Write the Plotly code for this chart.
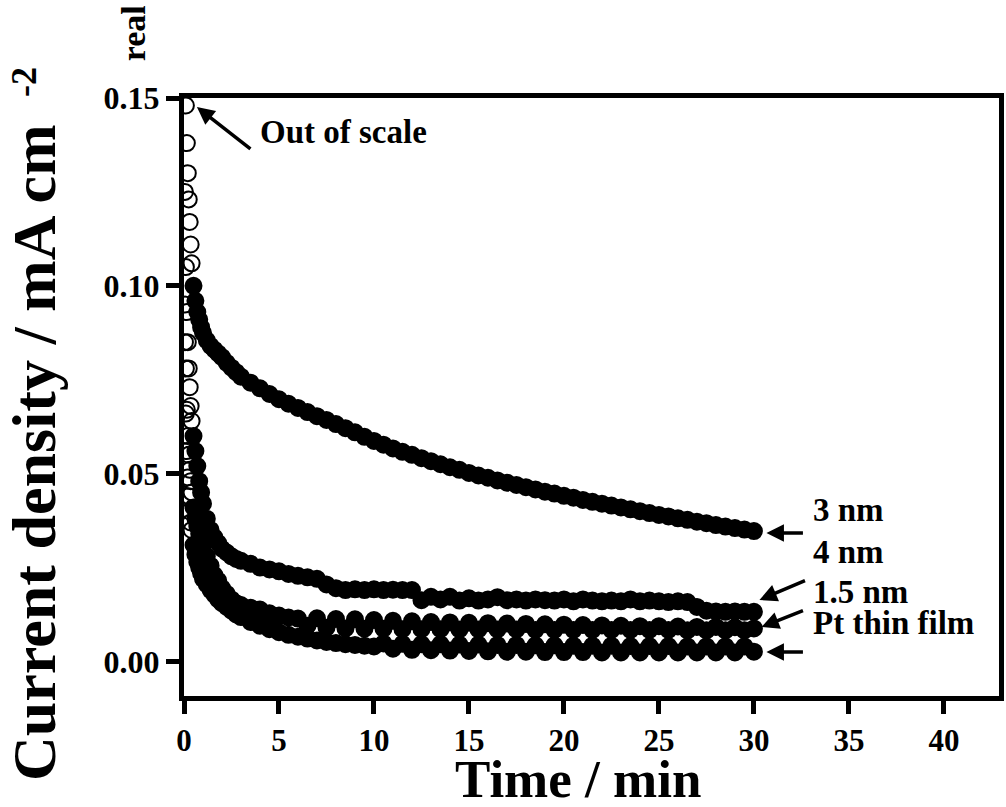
import plotly.graph_objects as go

# ---------------- data ----------------
time_min = [0.05, 0.1, 0.15, 0.2, 0.25, 0.3, 0.35, 0.4, 0.5, 0.6, 0.7, 0.8, 0.9, 1.0,
            1.2, 1.4, 1.6, 1.8, 2.0, 2.25, 2.5, 2.75, 3.0, 3.5, 4.0, 4.5, 5.0, 5.5, 6.0,
            6.5, 7.0, 7.5, 8.0, 8.5, 9.0, 9.5, 10.0, 10.5, 11.0, 11.5, 12.0, 12.5, 13.0,
            13.5, 14.0, 14.5, 15.0, 15.5, 16.0, 16.5, 17.0, 17.5, 18.0, 18.5, 19.0, 19.5,
            20.0, 20.5, 21.0, 21.5, 22.0, 22.5, 23.0, 23.5, 24.0, 24.5, 25.0, 25.5, 26.0,
            26.5, 27.0, 27.5, 28.0, 28.5, 29.0, 29.5, 30.0]

j_3nm = [0.175, 0.148, 0.138, 0.130, 0.123, 0.117, 0.111, 0.106, 0.100, 0.096, 0.093, 0.091,
         0.089, 0.0875, 0.0855, 0.084, 0.083, 0.082, 0.081, 0.0795, 0.0782, 0.077, 0.0758,
         0.0742, 0.0727, 0.0712, 0.0698, 0.0686, 0.0675, 0.0664, 0.0653, 0.0643, 0.0632,
         0.0621, 0.061, 0.0598, 0.0587, 0.0577, 0.0567, 0.0558, 0.055, 0.0541, 0.0533,
         0.0525, 0.0517, 0.051, 0.0502, 0.0495, 0.0489, 0.0482, 0.0476, 0.047, 0.0464,
         0.0458, 0.0452, 0.0447, 0.0441, 0.0436, 0.043, 0.0425, 0.042, 0.0415, 0.041,
         0.0405, 0.04, 0.0395, 0.039, 0.0386, 0.0381, 0.0377, 0.0372, 0.0368, 0.0363,
         0.0359, 0.0355, 0.0351, 0.0347]

j_4nm = [0.125, 0.105, 0.093, 0.085, 0.078, 0.073, 0.068, 0.064, 0.060, 0.056, 0.052, 0.048,
         0.045, 0.042, 0.038, 0.035, 0.033, 0.0315, 0.030, 0.029, 0.028, 0.0273, 0.0268,
         0.026, 0.025, 0.0245, 0.024, 0.0233, 0.0228, 0.0224, 0.022, 0.0205, 0.0195,
         0.019, 0.0192, 0.019, 0.0192, 0.019, 0.0191, 0.019, 0.019, 0.0163, 0.0172,
         0.0165, 0.0172, 0.0162, 0.0168, 0.0162, 0.0165, 0.0171, 0.0163, 0.0165, 0.0162,
         0.0165, 0.0163, 0.0162, 0.0165, 0.016, 0.0165, 0.0162, 0.016, 0.0162, 0.016,
         0.0165, 0.016, 0.0162, 0.016, 0.0158, 0.016, 0.0158, 0.0145, 0.0135, 0.0133,
         0.0132, 0.0133, 0.0132, 0.0132]

j_15nm = [0.095, 0.078, 0.067, 0.060, 0.055, 0.051, 0.048, 0.045, 0.041, 0.038, 0.036, 0.034,
          0.0325, 0.031, 0.028, 0.0255, 0.023, 0.0215, 0.0195, 0.018, 0.0165, 0.0155, 0.015,
          0.0143, 0.0138, 0.0128, 0.0122, 0.0117, 0.0114, 0.0095, 0.0115, 0.009, 0.0113,
          0.0088, 0.0112, 0.0087, 0.011, 0.0087, 0.0108, 0.0086, 0.0107, 0.0086, 0.0105,
          0.0086, 0.0104, 0.0085, 0.0103, 0.0085, 0.0102, 0.0085, 0.0101, 0.0085, 0.01,
          0.0084, 0.0099, 0.0084, 0.0098, 0.0084, 0.0097, 0.0084, 0.0096, 0.0084, 0.0095,
          0.0084, 0.0094, 0.0084, 0.0094, 0.0084, 0.0093, 0.0083, 0.0092, 0.0083, 0.0092,
          0.0083, 0.0091, 0.0083, 0.0088]

j_pt = [0.085, 0.066, 0.056, 0.049, 0.044, 0.040, 0.037, 0.035, 0.031, 0.0285, 0.0265, 0.025,
        0.0235, 0.022, 0.0205, 0.019, 0.0178, 0.0165, 0.0155, 0.0145, 0.0135, 0.0125, 0.0118,
        0.0105, 0.0095, 0.0086, 0.0078, 0.0071, 0.0066, 0.0061, 0.0056, 0.0052, 0.0049,
        0.0046, 0.0044, 0.0042, 0.004, 0.0048, 0.0034, 0.0047, 0.0031, 0.0046, 0.003,
        0.0046, 0.0029, 0.0045, 0.0028, 0.0045, 0.0027, 0.0044, 0.0026, 0.0044, 0.0026,
        0.0043, 0.0025, 0.0043, 0.0025, 0.0042, 0.0025, 0.0042, 0.0024, 0.0042, 0.0024,
        0.0041, 0.0024, 0.0041, 0.0024, 0.0041, 0.0024, 0.004, 0.0024, 0.004, 0.0024,
        0.004, 0.0024, 0.004, 0.0026]

series = [("3 nm", j_3nm), ("4 nm", j_4nm), ("1.5 nm", j_15nm), ("Pt thin film", j_pt)]

x_ticks = [0, 5, 10, 15, 20, 25, 30, 35, 40]
y_ticks = [0.00, 0.05, 0.10, 0.15]

# ---------------- layout geometry ----------------
W, H = 1006, 807
ML, MR, MT, MB = 184, 2, 98, 111
PW, PH = W - ML - MR, H - MT - MB

def pxx(xp):
    return (xp - ML) / PW

def pxy(yp):
    return (H - MB - yp) / PH

FONT = "Liberation Serif, Times New Roman, serif"

fig = go.Figure()
for name, vals in series:
    symbols = ["circle-open" if t < 0.5 else "circle" for t in time_min]
    fig.add_trace(go.Scatter(
        x=time_min, y=vals, mode="markers", name=name, showlegend=False,
        marker=dict(symbol=symbols, size=16, color="black",
                    line=dict(color="black", width=2)),
    ))

axis_common = dict(showline=True, linewidth=5, linecolor="black", mirror=True,
                   ticks="outside", tickwidth=5, tickcolor="black",
                   showgrid=False, zeroline=False)

fig.update_xaxes(range=[0, 42.9], tickvals=x_ticks, ticklen=13,
                 tickfont=dict(family=FONT, size=31, color="black", weight="bold"),
                 **axis_common)
fig.update_yaxes(range=[-0.0092, 0.15], tickvals=y_ticks, tickformat=".2f",
                 ticklen=13,
                 tickfont=dict(family=FONT, size=32, color="black", weight="bold"),
                 **axis_common)

ann = []
# axis titles
ann.append(dict(text="Time / min", x=pxx(580), y=pxy(779), xref="paper", yref="paper",
                xanchor="center", yanchor="middle", showarrow=False,
                font=dict(family=FONT, size=53, color="black", weight="bold")))
ann.append(dict(text="Current density / mA cm", x=pxx(33), y=pxy(452), xref="paper",
                yref="paper", xanchor="center", yanchor="middle", textangle=-90,
                showarrow=False,
                font=dict(family=FONT, size=62, color="black", weight="bold")))
ann.append(dict(text="-2", x=pxx(23), y=pxy(82), xref="paper", yref="paper",
                xanchor="center", yanchor="middle", textangle=-90, showarrow=False,
                font=dict(family=FONT, size=36, color="black", weight="bold")))
ann.append(dict(text="real", x=pxx(134), y=pxy(33), xref="paper", yref="paper",
                xanchor="center", yanchor="middle", textangle=-90, showarrow=False,
                font=dict(family=FONT, size=34, color="black", weight="bold")))

# in-plot labels
lab_font = dict(family=FONT, size=33, color="black", weight="bold")
ann.append(dict(text="Out of scale", x=pxx(258), y=pxy(132), xref="paper", yref="paper",
                xanchor="left", yanchor="middle", showarrow=False, font=lab_font))
for txt, yc in [("3 nm", 510), ("4 nm", 552), ("1.5 nm", 592), ("Pt thin film", 623)]:
    ann.append(dict(text=txt, x=pxx(815), y=pxy(yc), xref="paper", yref="paper",
                    xanchor="left", yanchor="middle", showarrow=False, font=lab_font))

# arrows: (head x, head y, tail x, tail y) in pixels
arrows = [(197, 107, 252, 150), (770, 533, 808, 533), (763, 600, 810, 580),
          (765, 627, 808, 610), (770, 652, 808, 652)]
for hx, hy, tx, ty in arrows:
    ann.append(dict(text="", x=pxx(hx), y=pxy(hy), xref="paper", yref="paper",
                    ax=tx - hx, ay=ty - hy, axref="pixel", ayref="pixel",
                    showarrow=True, arrowhead=2, arrowsize=1, arrowwidth=3.5,
                    arrowcolor="black", standoff=0))

fig.update_layout(width=W, height=H, margin=dict(l=ML, r=MR, t=MT, b=MB),
                  paper_bgcolor="white", plot_bgcolor="white", annotations=ann,
                  font=dict(family=FONT, color="black"))

fig.write_html("out.html")
